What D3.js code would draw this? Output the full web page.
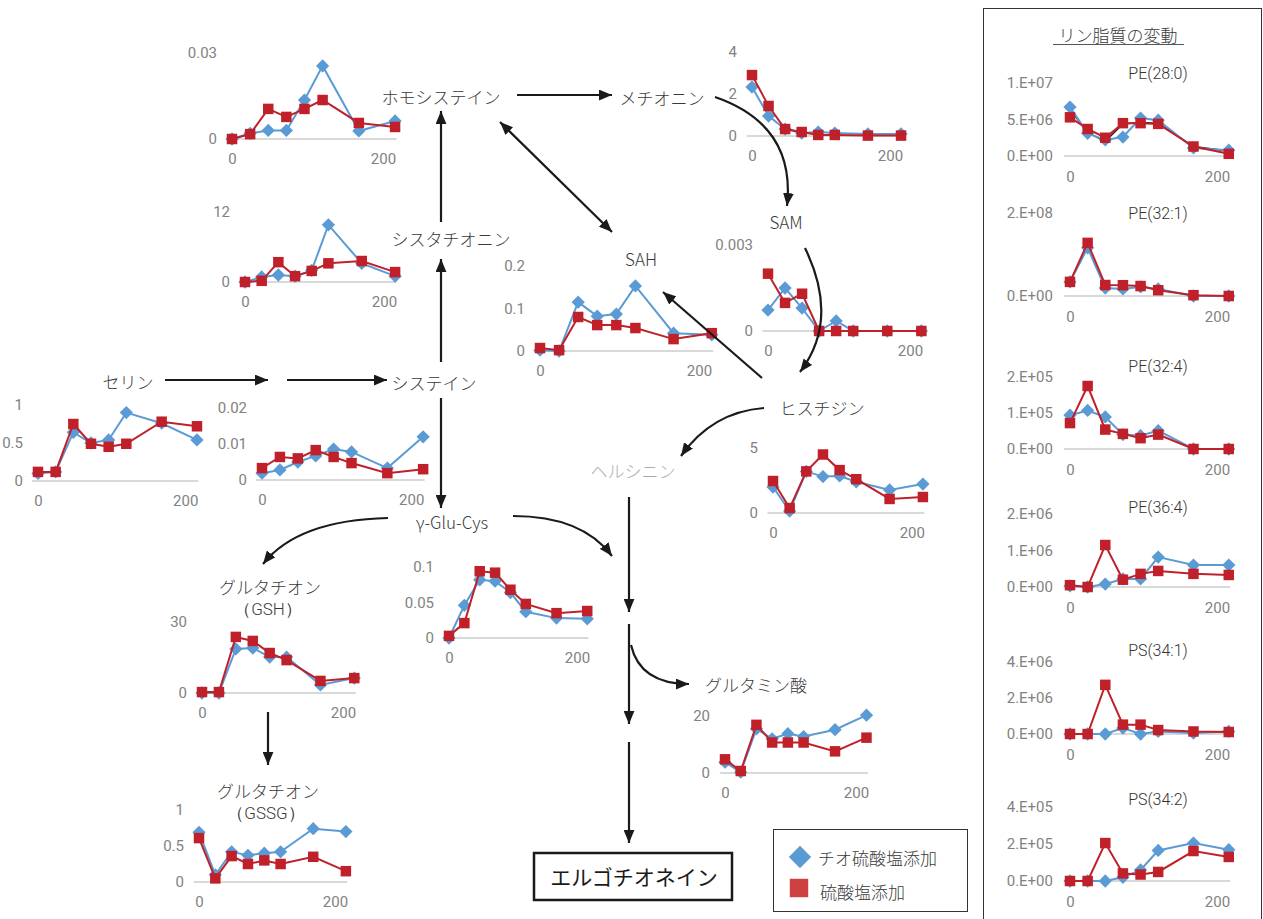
<!DOCTYPE html>
<html>
<head>
<meta charset="utf-8">
<script src="https://cdn.jsdelivr.net/npm/d3@7"></script>
<style>
  body { margin: 0; background: #fff; }
  svg { display: block; }
</style>
</head>
<body>
<svg id="chart" width="1263" height="919"></svg>
<script>
// Sampling times (h)
const times = [0, 24, 48, 72, 96, 120, 168, 216];
const seriesNames = ["チオ硫酸塩添加", "硫酸塩添加"];

// Metabolites: thiosulfate-supplemented vs sulfate-supplemented
const homocysteineThio = [0, 0.002, 0.003, 0.003, 0.0136, 0.0255, 0.0028, 0.0063];
const homocysteineSulf = [0, 0.0017, 0.0105, 0.0077, 0.0105, 0.0136, 0.0056, 0.0042];
const cystathionineThio = [0, 0.86, 1.2, 1.0, 2.0, 9.8, 3.2, 1.0];
const cystathionineSulf = [0, 0.2, 3.4, 1.0, 1.9, 3.2, 3.6, 1.7];
const serineThio = [0.1, 0.12, 0.64, 0.5, 0.54, 0.9, 0.76, 0.54];
const serineSulf = [0.12, 0.12, 0.75, 0.49, 0.45, 0.49, 0.78, 0.72];
const cysteineThio = [0.0019, 0.0028, 0.005, 0.0067, 0.0086, 0.0078, 0.0033, 0.012];
const cysteineSulf = [0.0033, 0.0064, 0.006, 0.0083, 0.0064, 0.0047, 0.0019, 0.003];
const sahThio = [0.002, 0, 0.115, 0.082, 0.087, 0.153, 0.042, 0.038];
const sahSulf = [0.007, 0.002, 0.08, 0.061, 0.061, 0.054, 0.028, 0.042];
const methionineThio = [2.33, 0.95, 0.33, 0.14, 0.19, 0.14, 0.1, 0.1];
const methionineSulf = [2.9, 1.43, 0.33, 0.19, 0.05, 0.05, 0.02, 0.02];
const samThio = [0.00073, 0.0015, 0.0008, 0, 0.00035, 0, 0, 0];
const samSulf = [0.002, 0.00098, 0.0013, 0, 0, 0, 0, 0];
const histidineThio = [2.0, 0.15, 3.2, 2.8, 2.85, 2.4, 1.77, 2.23];
const histidineSulf = [2.46, 0.38, 3.2, 4.5, 3.3, 2.6, 1.08, 1.23];
const gshThio = [0, 0, 18.6, 19, 15.2, 15.2, 3.4, 6.3];
const gshSulf = [0.4, 0.4, 23.7, 22, 16.9, 13.9, 5.1, 6.3];
const gluCysThio = [0, 0.046, 0.082, 0.08, 0.064, 0.037, 0.028, 0.027];
const gluCysSulf = [0.003, 0.021, 0.094, 0.092, 0.068, 0.048, 0.035, 0.038];
const gssgThio = [0.69, 0.1, 0.42, 0.37, 0.4, 0.42, 0.74, 0.7];
const gssgSulf = [0.61, 0.05, 0.36, 0.25, 0.3, 0.25, 0.35, 0.15];
const glutamateThio = [3.8, 0.3, 15.5, 12, 13.8, 12.8, 15.2, 20.3];
const glutamateSulf = [4.8, 0.7, 16.9, 10.7, 10.7, 10.7, 7.6, 12.4];

// Phospholipids
const pe280Thio = [6.7e6, 3.1e6, 2.2e6, 2.6e6, 5.2e6, 4.9e6, 1.1e6, 0.8e6];
const pe280Sulf = [5.3e6, 3.7e6, 2.5e6, 4.5e6, 4.5e6, 4.4e6, 1.3e6, 0.3e6];
const pe280Extra = [6.4e6, 3.2e6, 2.0e6, 4.4e6, 4.6e6, 4.5e6, 1.3e6, 0.7e6];
const pe321Thio = [3.4e7, 1.16e8, 1.9e7, 1.7e7, 2.2e7, 1.7e7, 0, 0];
const pe321Sulf = [3.4e7, 1.28e8, 2.65e7, 2.6e7, 2.4e7, 1.4e7, 2e6, 0];
const pe324Thio = [0.94e5, 1.07e5, 0.89e5, 0.4e5, 0.37e5, 0.51e5, 0, 0];
const pe324Sulf = [0.72e5, 1.75e5, 0.54e5, 0.42e5, 0.3e5, 0.4e5, 0, 0];
const pe364Thio = [0.03e6, 0, 0.08e6, 0.22e6, 0.22e6, 0.82e6, 0.6e6, 0.6e6];
const pe364Sulf = [0.05e6, 0, 1.15e6, 0.2e6, 0.36e6, 0.44e6, 0.36e6, 0.33e6];
const ps341Thio = [0, 0, 0, 0.33e6, 0, 0.14e6, 0.05e6, 0.14e6];
const ps341Sulf = [0, 0, 2.73e6, 0.52e6, 0.52e6, 0.22e6, 0.14e6, 0.11e6];
const ps342Thio = [0, 0, 0, 0.2e5, 0.6e5, 1.65e5, 2.05e5, 1.69e5];
const ps342Sulf = [0, 0, 2.05e5, 0.41e5, 0.35e5, 0.49e5, 1.62e5, 1.3e5];

// Tick values
const xTicks = [0, 200];
const homocysteineTicks = [0, 0.03];
const cystathionineTicks = [0, 12];
const serineTicks = [0, 0.5, 1];
const cysteineTicks = [0, 0.01, 0.02];
const sahTicks = [0, 0.1, 0.2];
const methionineTicks = [0, 2, 4];
const samTicks = [0, 0.003];
const histidineTicks = [0, 5];
const gshTicks = [0, 30];
const gluCysTicks = [0, 0.05, 0.1];
const gssgTicks = [0, 0.5, 1];
const glutamateTicks = [0, 20];
const pe280Ticks = [0, 5e6, 1e7];
const pe321Ticks = [0, 2e8];
const pe324Ticks = [0, 1e5, 2e5];
const pe364Ticks = [0, 1e6, 2e6];
const ps341Ticks = [0, 2e6, 4e6];
const ps342Ticks = [0, 2e5, 4e5];

const BLUE = "#5b9bd5";
const RED = "#c0202a";
const TICK_GRAY = "#828282";
const TEXT = "#3a3a3a";
const NUM_FONT = "Roboto, 'Liberation Sans', sans-serif";
const JP_FONT = "'Noto Sans CJK JP', 'Noto Sans', sans-serif";

// Excel-style scientific labels, e.g. 5.E+06
function sciFmt(v) {
  if (v === 0) return "0.E+00";
  const e = Math.floor(Math.log10(v) + 1e-9);
  const m = Math.round(v / Math.pow(10, e));
  return m + ".E+" + String(e).padStart(2, "0");
}
const plainFmt = v => String(+v.toPrecision(6));

// Panel layout: pixel of t=0, px per hour, zero line, top tick position
const panels = [
  { thio: homocysteineThio, sulf: homocysteineSulf, ticks: homocysteineTicks, x0: 232, k: 0.755, yBase: 139, yTop: 53 },
  { thio: cystathionineThio, sulf: cystathionineSulf, ticks: cystathionineTicks, x0: 245, k: 0.695, yBase: 282, yTop: 212 },
  { thio: serineThio, sulf: serineSulf, ticks: serineTicks, x0: 38, k: 0.736, yBase: 481, yTop: 405 },
  { thio: cysteineThio, sulf: cysteineSulf, ticks: cysteineTicks, x0: 262, k: 0.746, yBase: 480, yTop: 408 },
  { thio: sahThio, sulf: sahSulf, ticks: sahTicks, x0: 540, k: 0.795, yBase: 351, yTop: 266 },
  { thio: methionineThio, sulf: methionineSulf, ticks: methionineTicks, x0: 752, k: 0.69, yBase: 136, yTop: 52 },
  { thio: samThio, sulf: samSulf, ticks: samTicks, x0: 768, k: 0.71, yBase: 331, yTop: 245 },
  { thio: histidineThio, sulf: histidineSulf, ticks: histidineTicks, x0: 773, k: 0.694, yBase: 513, yTop: 448 },
  { thio: gshThio, sulf: gshSulf, ticks: gshTicks, x0: 202, k: 0.705, yBase: 693, yTop: 622 },
  { thio: gluCysThio, sulf: gluCysSulf, ticks: gluCysTicks, x0: 449, k: 0.64, yBase: 638, yTop: 567 },
  { thio: gssgThio, sulf: gssgSulf, ticks: gssgTicks, x0: 199, k: 0.68, yBase: 882, yTop: 810 },
  { thio: glutamateThio, sulf: glutamateSulf, ticks: glutamateTicks, x0: 725, k: 0.655, yBase: 773, yTop: 716 },
  { thio: pe280Thio, sulf: pe280Sulf, extra: pe280Extra, ticks: pe280Ticks, x0: 1070, k: 0.735, yBase: 156, yTop: 83, sci: true, title: "PE(28:0)", titleY: 73 },
  { thio: pe321Thio, sulf: pe321Sulf, ticks: pe321Ticks, x0: 1070, k: 0.735, yBase: 296, yTop: 213, sci: true, title: "PE(32:1)", titleY: 213 },
  { thio: pe324Thio, sulf: pe324Sulf, ticks: pe324Ticks, x0: 1070, k: 0.735, yBase: 449, yTop: 377, sci: true, title: "PE(32:4)", titleY: 366 },
  { thio: pe364Thio, sulf: pe364Sulf, ticks: pe364Ticks, x0: 1070, k: 0.735, yBase: 587, yTop: 514, sci: true, title: "PE(36:4)", titleY: 507 },
  { thio: ps341Thio, sulf: ps341Sulf, ticks: ps341Ticks, x0: 1070, k: 0.735, yBase: 734, yTop: 662, sci: true, title: "PS(34:1)", titleY: 650 },
  { thio: ps342Thio, sulf: ps342Sulf, ticks: ps342Ticks, x0: 1070, k: 0.735, yBase: 881, yTop: 807, sci: true, title: "PS(34:2)", titleY: 799 }
];

const svg = d3.select("#chart");

// arrowhead
const defs = svg.append("defs");
defs.append("marker")
  .attr("id", "arrow")
  .attr("viewBox", "0 0 12 10")
  .attr("refX", 12).attr("refY", 5)
  .attr("markerUnits", "userSpaceOnUse")
  .attr("markerWidth", 13).attr("markerHeight", 11)
  .attr("orient", "auto-start-reverse")
  .append("path").attr("d", "M0,0 L12,5 L0,10 Z").attr("fill", "#1a1a1a");

// Phospholipid frame
svg.append("rect")
  .attr("x", 983.5).attr("y", 8.5).attr("width", 278).attr("height", 920)
  .attr("fill", "none").attr("stroke", "#333").attr("stroke-width", 1);
svg.append("text")
  .attr("x", 1118).attr("y", 34).attr("text-anchor", "middle").attr("dominant-baseline", "central")
  .attr("font-family", JP_FONT).attr("font-size", 17).attr("font-weight", 300).attr("fill", TEXT)
  .text("リン脂質の変動");
svg.append("line")
  .attr("x1", 1053).attr("x2", 1184).attr("y1", 44.5).attr("y2", 44.5)
  .attr("stroke", "#555").attr("stroke-width", 1);

function drawPanel(p) {
  const top = p.ticks[p.ticks.length - 1];
  const x = d3.scaleLinear().domain([0, 200]).range([p.x0, p.x0 + 200 * p.k]);
  const y = d3.scaleLinear().domain([0, top]).range([p.yBase, p.yTop]);
  const g = svg.append("g");

  g.append("line")
    .attr("x1", x(-8)).attr("x2", x(218))
    .attr("y1", p.yBase).attr("y2", p.yBase)
    .attr("stroke", "#d9d9d9").attr("stroke-width", 2);

  const xa = g.append("g").attr("transform", `translate(0,${p.yBase})`)
    .call(d3.axisBottom(x).tickValues(xTicks).tickSize(0).tickPadding(p.sci ? 15 : 14));
  xa.select(".domain").remove();
  xa.selectAll("text").attr("font-family", NUM_FONT).attr("font-size", 15).attr("fill", TICK_GRAY);

  const ya = g.append("g").attr("transform", `translate(${p.x0 - (p.sci ? 4 : 2)},0)`)
    .call(d3.axisLeft(y).tickValues(p.ticks).tickSize(0).tickPadding(13)
      .tickFormat(p.sci ? sciFmt : plainFmt));
  ya.select(".domain").remove();
  ya.selectAll("text").attr("font-family", NUM_FONT).attr("font-size", 15).attr("fill", TICK_GRAY);

  if (p.title) {
    g.append("text")
      .attr("x", 1158).attr("y", p.titleY).attr("text-anchor", "middle").attr("dominant-baseline", "central")
      .attr("font-family", NUM_FONT).attr("font-size", 16).attr("font-weight", 300).attr("fill", "#333")
      .text(p.title);
  }

  const line = d3.line().x((d, i) => x(times[i])).y(d => y(d));

  if (p.extra) {
    g.append("path").attr("d", line(p.extra))
      .attr("fill", "none").attr("stroke", "#222").attr("stroke-width", 1.5);
  }

  g.append("path").attr("d", line(p.thio))
    .attr("fill", "none").attr("stroke", BLUE).attr("stroke-width", 2);
  g.selectAll(".dia").data(p.thio).join("path")
    .attr("d", d3.symbol(d3.symbolSquare, 88)())
    .attr("transform", (d, i) => `translate(${x(times[i])},${y(d)}) rotate(45)`)
    .attr("fill", BLUE);

  g.append("path").attr("d", line(p.sulf))
    .attr("fill", "none").attr("stroke", RED).attr("stroke-width", 2);
  g.selectAll(".sq").data(p.sulf).join("path")
    .attr("d", d3.symbol(d3.symbolSquare, 110)())
    .attr("transform", (d, i) => `translate(${x(times[i])},${y(d)})`)
    .attr("fill", RED);
}
panels.forEach(drawPanel);

// Pathway node names
const nodeLabels = [
  { text: "ホモシステイン", x: 441, y: 96 },
  { text: "メチオニン", x: 662, y: 97 },
  { text: "SAM", x: 786, y: 221 },
  { text: "SAH", x: 641, y: 258 },
  { text: "シスタチオニン", x: 451, y: 238 },
  { text: "セリン", x: 128, y: 381 },
  { text: "システイン", x: 434, y: 382 },
  { text: "ヒスチジン", x: 822, y: 407 },
  { text: "ヘルシニン", x: 633, y: 470, color: "#ababab" },
  { text: "γ-Glu-Cys", x: 452, y: 521 },
  { text: "グルタチオン", x: 270, y: 586 },
  { text: "グルタチオン", x: 268, y: 790 },
  { text: "グルタミン酸", x: 756, y: 684 }
];
svg.append("g").selectAll("text").data(nodeLabels).join("text")
  .attr("x", d => d.x).attr("y", d => d.y)
  .attr("text-anchor", "middle").attr("dominant-baseline", "central")
  .attr("font-family", JP_FONT).attr("font-size", 17).attr("font-weight", 300)
  .attr("fill", d => d.color || TEXT)
  .text(d => d.text);

// Second line of the glutathione names
const subLabels = [
  { text: "（GSH）", x: 268, y: 609 },
  { text: "（GSSG）", x: 266, y: 813 }
];
svg.append("g").selectAll("text").data(subLabels).join("text")
  .attr("x", d => d.x).attr("y", d => d.y)
  .attr("text-anchor", "middle").attr("dominant-baseline", "central")
  .attr("font-family", NUM_FONT).attr("font-size", 17).attr("font-weight", 300)
  .attr("fill", TEXT)
  .text(d => d.text);

// Pathway arrows
const arrows = [
  { d: "M517,95 L612,95" },
  { d: "M441,222 L441,111" },
  { d: "M441,362 L441,259" },
  { d: "M165,380 L268,380" },
  { d: "M287,380 L387,380" },
  { d: "M441,398 L441,508" },
  { d: "M500,122 L612,232", both: true },
  { d: "M715,97 Q796,125 787,206" },
  { d: "M805,248 Q840,320 800,372" },
  { d: "M762,378 L663,292" },
  { d: "M764,408 Q712,412 681,456" },
  { d: "M388,518 Q298,520 263,564" },
  { d: "M513,516 Q582,516 612,556" },
  { d: "M629,497 L629,612" },
  { d: "M629,624 L629,724" },
  { d: "M631,645 Q640,684 689,684" },
  { d: "M629,742 L629,843" },
  { d: "M268,712 L268,765" }
];
svg.append("g").selectAll("path").data(arrows).join("path")
  .attr("d", d => d.d)
  .attr("fill", "none").attr("stroke", "#1a1a1a").attr("stroke-width", 2.2)
  .attr("marker-end", "url(#arrow)")
  .attr("marker-start", d => d.both ? "url(#arrow)" : null);

// Product box
svg.append("rect")
  .attr("x", 534).attr("y", 853).attr("width", 198).attr("height", 47)
  .attr("fill", "#fff").attr("stroke", "#1a1a1a").attr("stroke-width", 2.5);
svg.append("text")
  .attr("x", 634).attr("y", 876).attr("text-anchor", "middle").attr("dominant-baseline", "central")
  .attr("font-family", JP_FONT).attr("font-size", 21).attr("fill", "#1a1a1a")
  .text("エルゴチオネイン");

// Legend
const legend = svg.append("g");
legend.append("rect")
  .attr("x", 773.5).attr("y", 829.5).attr("width", 194).attr("height", 82)
  .attr("fill", "#fff").attr("stroke", "#333").attr("stroke-width", 1);
legend.append("path")
  .attr("d", d3.symbol(d3.symbolSquare, 250)())
  .attr("transform", "translate(800,857) rotate(45)")
  .attr("fill", BLUE);
legend.append("path")
  .attr("d", d3.symbol(d3.symbolSquare, 340)())
  .attr("transform", "translate(799,888)")
  .attr("fill", "#cf4141");
legend.selectAll("text").data(seriesNames).join("text")
  .attr("x", (d, i) => i === 0 ? 818 : 820)
  .attr("y", (d, i) => i === 0 ? 857 : 891)
  .attr("dominant-baseline", "central")
  .attr("font-family", JP_FONT).attr("font-size", 17).attr("font-weight", 300).attr("fill", TEXT)
  .text(d => d);
</script>
</body>
</html>
